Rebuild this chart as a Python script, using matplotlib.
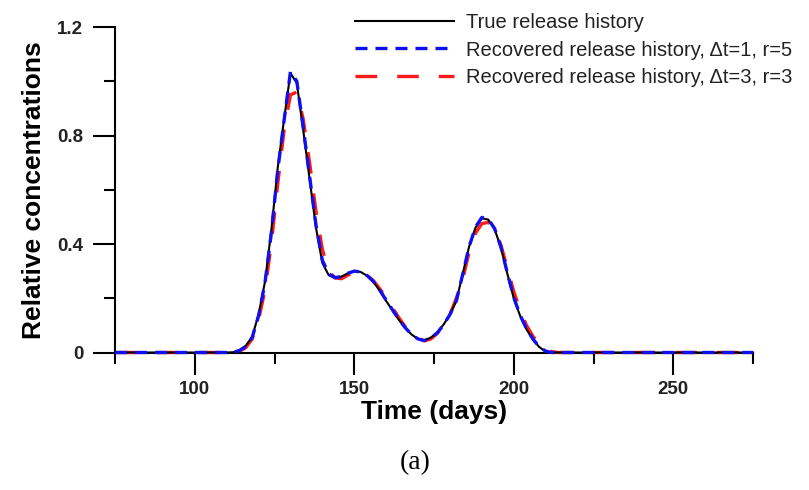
import matplotlib
matplotlib.use("Agg")
import matplotlib.pyplot as plt
from matplotlib.ticker import MultipleLocator

# Release history data (time in days, relative concentration)
t_true = [75, 110, 112, 114, 116, 118, 120, 122, 124, 126, 128, 130, 132, 134, 136,
          138, 140, 142, 144, 146, 148, 150, 152, 154, 156, 158, 160, 162, 164, 166,
          168, 170, 172, 174, 176, 178, 180, 182, 184, 186, 188, 190, 192, 194, 196,
          198, 200, 202, 204, 206, 208, 210, 212, 275]
c_true = [0, 0, 0.001, 0.008, 0.025, 0.058, 0.14, 0.26, 0.45, 0.68, 0.86, 1.03, 0.993,
          0.82, 0.64, 0.46, 0.33, 0.285, 0.274, 0.28, 0.292, 0.30, 0.297, 0.283, 0.26,
          0.228, 0.19, 0.155, 0.12, 0.09, 0.066, 0.05, 0.045, 0.055, 0.073, 0.103,
          0.14, 0.19, 0.29, 0.39, 0.46, 0.495, 0.49, 0.455, 0.385, 0.29, 0.2, 0.135,
          0.085, 0.048, 0.02, 0.004, 0, 0]

t_rec1 = [75, 110, 112, 114, 116, 118, 120, 122, 124, 126, 128, 130, 132, 134, 136,
          138, 140, 142, 144, 146, 148, 150, 152, 154, 156, 158, 160, 162, 164, 166,
          168, 170, 172, 174, 176, 178, 180, 182, 184, 186, 188, 190, 192, 194, 196,
          198, 200, 202, 204, 206, 208, 210, 212, 275]
c_rec1 = [0, 0, 0.001, 0.007, 0.022, 0.055, 0.135, 0.255, 0.44, 0.67, 0.855, 1.035,
          1.0, 0.83, 0.65, 0.47, 0.34, 0.29, 0.276, 0.28, 0.292, 0.30, 0.297, 0.284,
          0.262, 0.23, 0.193, 0.157, 0.122, 0.091, 0.066, 0.05, 0.044, 0.054, 0.072,
          0.102, 0.14, 0.19, 0.288, 0.39, 0.462, 0.498, 0.492, 0.457, 0.388, 0.293,
          0.203, 0.138, 0.088, 0.05, 0.021, 0.005, 0, 0]

t_rec3 = [75, 110, 112, 114, 116, 118, 120, 122, 124, 126, 128, 130, 132, 134, 136,
          138, 140, 142, 144, 146, 148, 150, 152, 154, 156, 158, 160, 162, 164, 166,
          168, 170, 172, 174, 176, 178, 180, 182, 184, 186, 188, 190, 192, 194, 196,
          198, 200, 202, 204, 206, 208, 210, 212, 214, 275]
c_rec3 = [0, 0, 0, 0.004, 0.018, 0.05, 0.12, 0.23, 0.40, 0.62, 0.82, 0.95, 0.96, 0.86,
          0.70, 0.52, 0.38, 0.30, 0.275, 0.272, 0.285, 0.297, 0.295, 0.285, 0.265,
          0.235, 0.20, 0.165, 0.128, 0.095, 0.068, 0.05, 0.043, 0.05, 0.07, 0.10,
          0.14, 0.20, 0.27, 0.37, 0.44, 0.475, 0.48, 0.455, 0.395, 0.31, 0.225, 0.155,
          0.10, 0.06, 0.03, 0.012, 0.003, 0, 0]

x_ticks = [100, 150, 200, 250]
y_ticks = [0, 0.4, 0.8, 1.2]
y_tick_labels = ["0", "0.4", "0.8", "1.2"]

plt.rcParams["font.family"] = ["Liberation Sans", "DejaVu Sans"]

fig = plt.figure(figsize=(8.09, 4.90), dpi=100)
ax = fig.add_axes([115 / 809, 1 - 352.5 / 490, (753 - 115) / 809, (352.5 - 27) / 490])

ax.plot(t_rec3, c_rec3, color="#ff1a1a", lw=2.4, dashes=(6.5, 6.0),
        label="Recovered release history, \u0394t=3, r=3", zorder=3, clip_on=False)
ax.plot(t_true, c_true, color="black", lw=1.5,
        label="True release history", zorder=4, clip_on=False)
ax.plot(t_rec1, c_rec1, color="#1010ee", lw=2.4, dashes=(3.6, 2.4),
        label="Recovered release history, \u0394t=1, r=5", zorder=5, clip_on=False)

ax.set_xlim(75, 275)
ax.set_ylim(0, 1.2)
ax.set_xticks(x_ticks)
ax.xaxis.set_minor_locator(MultipleLocator(25))
ax.set_yticks(y_ticks)
ax.set_yticklabels(y_tick_labels)
ax.yaxis.set_minor_locator(MultipleLocator(0.2))

for side in ("top", "right"):
    ax.spines[side].set_visible(False)
for side in ("left", "bottom"):
    ax.spines[side].set_linewidth(1.5)
    ax.spines[side].set_zorder(2)

ax.tick_params(which="major", direction="out", length=15.8, width=1.5,
               labelsize=13.5, pad=5)
ax.tick_params(which="minor", direction="out", length=7.9, width=1.5)
ax.tick_params(axis="y", which="major", pad=7)
for lab in ax.get_xticklabels() + ax.get_yticklabels():
    lab.set_fontweight("bold")
    lab.set_color("#222222")

ax.set_xlabel("Time (days)", fontsize=19, fontweight="bold", labelpad=1)
ax.set_ylabel("Relative concentrations", fontsize=19, fontweight="bold", labelpad=8)

handles, labels = ax.get_legend_handles_labels()
order = [1, 2, 0]
leg = ax.legend([handles[i] for i in order], [labels[i] for i in order],
                loc="upper left", bbox_to_anchor=(343 / 809, 1.0 - 1 / 490),
                bbox_transform=fig.transFigure, frameon=False,
                fontsize=14.5, handlelength=4.9, handletextpad=0.6,
                labelspacing=0.42, borderaxespad=0.2)
for txt in leg.get_texts():
    txt.set_color("#222222")

fig.text(415 / 809, 1 - 463 / 490, "(a)", family="Liberation Serif",
         fontsize=20, ha="center", va="center")

fig.savefig("out.png", dpi=100)
